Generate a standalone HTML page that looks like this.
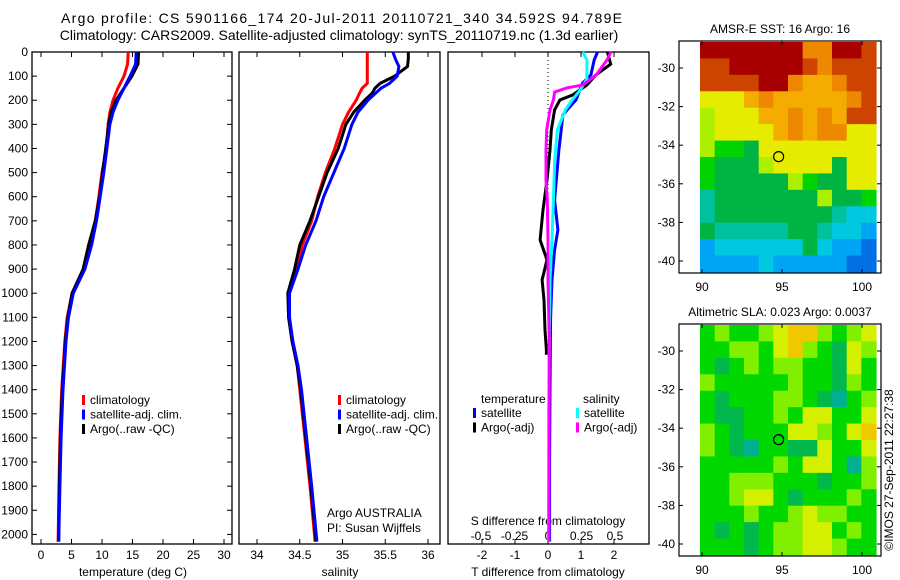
<!DOCTYPE html>
<html><head><meta charset="utf-8"><style>
body{margin:0;background:#fff;}
svg{display:block;font-family:"Liberation Sans",Arial,sans-serif;}
</style></head><body>
<svg id="fig" width="900" height="580" viewBox="0 0 900 580" xmlns="http://www.w3.org/2000/svg">
<text x="61" y="23" font-size="14" textLength="561" lengthAdjust="spacing">Argo profile: CS 5901166_174 20-Jul-2011 20110721_340 34.592S 94.789E</text>
<text x="339" y="40" font-size="14" text-anchor="middle">Climatology: CARS2009. Satellite-adjusted climatology: synTS_20110719.nc (1.3d earlier)</text>
<g id="g1"></g>
<g id="g2"></g>
<g id="g3"></g>
<g id="m1"></g>
<g id="m2"></g>
<text transform="translate(893,470) rotate(-90)" font-size="12" text-anchor="middle">©IMOS 27-Sep-2011 22:27:38</text>
</svg>
<script>
// ---- data ----
const tDepth=[0,50,100,150,200,250,300,400,500,600,700,800,900,1000,1100,1200,1400,1600,1800,2030];
const tClim=[14.3,14.2,13.6,12.6,11.8,11.3,11.0,10.7,10.0,9.5,8.9,8.0,7.0,5.1,4.3,3.9,3.4,3.1,2.95,2.8];
const tSat=[15.6,15.5,14.6,13.6,12.6,11.8,11.3,10.8,10.3,9.7,9.1,8.3,7.2,5.3,4.5,4.1,3.6,3.3,3.1,2.9];
const tArgo=[16.0,15.9,14.9,13.6,12.3,11.5,11.1,10.6,10.1,9.6,8.9,7.8,6.9,5.1,4.4,4.0,3.5,3.2,3.0,2.9];
const sDepth=[0,30,60,100,130,150,170,200,250,300,400,500,600,700,800,900,1000,1100,1200,1300,1400,1600,1800,2030];
const sClim=[35.29,35.29,35.29,35.29,35.29,35.23,35.2,35.16,35.07,35.0,34.91,34.8,34.71,34.64,34.53,34.46,34.37,34.37,34.41,34.47,34.5,34.56,34.62,34.68];
const sSat=[35.59,35.62,35.66,35.64,35.55,35.45,35.39,35.3,35.18,35.11,35.02,34.9,34.78,34.69,34.57,34.48,34.38,34.38,34.42,34.48,34.52,34.58,34.64,34.7];
const sArgo=[35.77,35.77,35.76,35.61,35.44,35.38,35.35,35.26,35.13,35.04,34.95,34.82,34.72,34.62,34.5,34.44,34.36,34.37,34.41,34.47,34.51,34.57,34.63,34.69];
const dtSatDepth=[0,33,95,129,199,240,261,406,614,738,821,945,1100,1400,1700,2030];
const dtSat=[1.5,1.4,1.3,1.05,0.85,0.58,0.45,0.33,0.2,0.3,0.2,0.12,0.08,0.06,0.05,0.05];
const dtArgoDepth=[0,50,95,137,178,199,240,323,406,531,655,779,862,945,1028,1153,1235,1255];
const dtArgo=[1.8,1.9,1.45,1.18,0.75,0.36,0.2,0.1,0.06,-0.03,-0.15,-0.24,-0.03,-0.18,-0.12,-0.09,-0.05,-0.05];
const dsSatDepth=[0,33,112,158,199,240,323,448,614,779,945,1194,1500,2030];
const dsSat=[0.26,0.29,0.29,0.24,0.18,0.13,0.07,0.05,0.04,0.03,0.015,0.01,0.005,0.005];
const dsArgoDepth=[0,33,95,137,149,166,199,240,323,406,531,614,779,945,1194,1500,2030];
const dsArgo=[0.47,0.44,0.36,0.26,0.14,0.05,0.04,0.015,-0.01,-0.015,-0.015,-0.005,0,0,0.01,0.008,0.006];
const depthTicks=[0,100,200,300,400,500,600,700,800,900,1000,1100,1200,1300,1400,1500,1600,1700,1800,1900,2000];
const tTicks=[0,5,10,15,20,25,30];
const sTicks=["34","34.5","35","35.5","36"];
const dTTicks=[-2,-1,0,1,2];
const dSTicks=["-0.5","-0.25","0","0.25","0.5"];
const latTicks=[-30,-32,-34,-36,-38,-40];
const lonTicks=[90,95,100];
const sstGrid=["RRRRRRRooRRr","rrRRRRRrorrr","rrrrRRoOOorr","yyyOoOOOOOor","lyyyOOoOoOrr","lyyyyOoOooyy","lggGyyyyyyyy","gGGGlyyyyGyy","gGGGGGlgGGyy","tGGGGGGGlGGg","tGGGGGGGGtcc","GtttttGGtccb","bccccccGcbbB","bbbbcbbbbbBB"];
const slaGrid=["glgglyYYlgly","ggllgyYlgGyl","gGglgllggGyg","lggggglggGlg","gGgggllgGtgl","gGGgglgyyggy","lgGgggyylgyY","lgGtggGGyggy","ggggglgyygtl","gglllgggGggl","gglyygGggglg","ggglgglyllgg","gGgGgllyyglg","gggGgllyylgg"];
// ---- helpers ----
const NS="http://www.w3.org/2000/svg";
function mk(parent,tag,attrs,text){const e=document.createElementNS(NS,tag);for(const k in attrs)e.setAttribute(k,attrs[k]);if(text!==undefined)e.textContent=text;parent.appendChild(e);return e;}
const Y0=52,BOT=544;
const yD=d=>Y0+d*0.2412;
function frame(g,x0,x1){const r=mk(g,'rect',{x:x0,y:Y0,width:x1-x0,height:BOT-Y0,fill:'none',stroke:'#000','stroke-width':1.3});

}
function line(g,xs,ds,fx,color,name){const pts=xs.map((v,i)=>fx(v).toFixed(1)+','+yD(ds[i]).toFixed(1)).join(' ');
const p=mk(g,'polyline',{points:pts,fill:'none',stroke:color,'stroke-width':3,'stroke-linejoin':'miter'});

}
function xTicks(g,vals,fx,labels,ylab,inner){vals.forEach((v,i)=>{const x=fx(v);
mk(g,'line',{x1:x,x2:x,y1:Y0,y2:Y0+5,stroke:'#000'});
if(!inner)mk(g,'line',{x1:x,x2:x,y1:BOT,y2:BOT-5,stroke:'#000'});
const t=mk(g,'text',{x:x,y:ylab,'font-size':12,'text-anchor':'middle'},labels[i]);

});}
function legend(g,x,y,items){items.forEach((it,i)=>{const yy=y+i*14.5;
mk(g,'rect',{x:x,y:yy-9,width:3,height:10,fill:it[0]});
const t=mk(g,'text',{x:x+8,y:yy,'font-size':12},it[1]);

});}
// ---- panel 1 ----
const g1=document.getElementById('g1');
const fxT=v=>41+v*6.1;
frame(g1,32,232);
depthTicks.forEach(d=>{const y=yD(d);mk(g1,'line',{x1:32,x2:37,y1:y,y2:y,stroke:'#000'});mk(g1,'line',{x1:227,x2:232,y1:y,y2:y,stroke:'#000'});
const t=mk(g1,'text',{x:28,y:y+4,'font-size':12,'text-anchor':'end'},String(d));

});
xTicks(g1,tTicks,fxT,tTicks.map(String),559,false);
mk(g1,'text',{x:133,y:576,'font-size':12,'text-anchor':'middle'},'temperature (deg C)');
line(g1,tClim,tDepth,fxT,'#ff0000','temp-climatology-line');
line(g1,tArgo,tDepth,fxT,'#000000','temp-argo-line');
line(g1,tSat,tDepth,fxT,'#0000ff','temp-satellite-line');
legend(g1,82,404,[['#f00','climatology'],['#00f','satellite-adj. clim.'],['#000','Argo(..raw -QC)']]);
// ---- panel 2 ----
const g2=document.getElementById('g2');
const fxS=v=>257+(v-34)*85.5;
frame(g2,239,440);
xTicks(g2,sTicks.map(Number),fxS,sTicks,559,false);
mk(g2,'text',{x:340,y:576,'font-size':12,'text-anchor':'middle'},'salinity');
line(g2,sClim,sDepth,fxS,'#ff0000','sal-climatology-line');
line(g2,sArgo,sDepth,fxS,'#000000','sal-argo-line');
line(g2,sSat,sDepth,fxS,'#0000ff','sal-satellite-line');
legend(g2,338,404,[['#f00','climatology'],['#00f','satellite-adj. clim.'],['#000','Argo(..raw -QC)']]);
mk(g2,'text',{x:327,y:517,'font-size':12},'Argo AUSTRALIA');
mk(g2,'text',{x:327,y:532,'font-size':12},'PI: Susan Wijffels');
// ---- panel 3 ----
const g3=document.getElementById('g3');
const fxDT=v=>548+v*33, fxDS=v=>548+v*134;
frame(g3,448,649);
mk(g3,'line',{x1:548,x2:548,y1:Y0,y2:BOT,stroke:'#000','stroke-dasharray':'1,3'});
xTicks(g3,dTTicks,fxDT,dTTicks.map(String),559,false);
dSTicks.forEach(s=>{const t=mk(g3,'text',{x:fxDS(Number(s)),y:540,'font-size':12,'text-anchor':'middle'},s);

});
mk(g3,'text',{x:548,y:525,'font-size':12,'text-anchor':'middle'},'S difference from climatology');
mk(g3,'text',{x:548,y:576,'font-size':12,'text-anchor':'middle'},'T difference from climatology');
line(g3,dtArgo,dtArgoDepth,fxDT,'#000000','tdiff-argo-line');
line(g3,dtSat,dtSatDepth,fxDT,'#0000ff','tdiff-satellite-line');
line(g3,dsSat,dsSatDepth,fxDS,'#00ffff','sdiff-satellite-line');
line(g3,dsArgo,dsArgoDepth,fxDS,'#ff00ff','sdiff-argo-line');
mk(g3,'text',{x:481,y:403,'font-size':12},'temperature');
mk(g3,'text',{x:583,y:403,'font-size':12},'salinity');
legend(g3,473,417,[['#00f','satellite'],['#000','Argo(-adj)']]);
legend(g3,576,417,[['#0ff','satellite'],['#f0f','Argo(-adj)']]);
// ---- maps ----
const sstCol={R:'#a80000',r:'#cc4400',o:'#ee8800',O:'#f4ac00',y:'#e6ec00',l:'#aaf000',g:'#00d400',G:'#00b444',t:'#00c0a0',c:'#00c8e0',b:'#00a4f4',B:'#0070e4'};
const slaCol={g:'#00d800',G:'#00b84c',l:'#80f000',y:'#d4f000',Y:'#f0c800',t:'#00b090'};
function map(id,top,grid,cols,title){const g=document.getElementById(id);
const fx=l=>702+(l-90)*16, fy=la=>top+27+(-30-la)*19.3;
const x0=700,x1=876,y0=top+1,y1=top+231,cw=(x1-x0)/12,ch=(y1-y0)/14;
grid.forEach((row,r)=>{[...row].forEach((c,k)=>{const cell=mk(g,'rect',{x:(x0+k*cw).toFixed(2),y:(y0+r*ch).toFixed(2),width:(cw+0.6).toFixed(2),height:(ch+0.6).toFixed(2),fill:cols[c]});

});});
mk(g,'rect',{x:679,y:top,width:202,height:232,fill:'none',stroke:'#000','stroke-width':1.2});
latTicks.forEach(la=>{const y=fy(la);mk(g,'line',{x1:679,x2:683,y1:y,y2:y,stroke:'#000'});mk(g,'line',{x1:877,x2:881,y1:y,y2:y,stroke:'#000'});
const t=mk(g,'text',{x:675,y:y+4,'font-size':12,'text-anchor':'end'},String(la));

});
lonTicks.forEach(l=>{const x=fx(l);mk(g,'line',{x1:x,x2:x,y1:top,y2:top+4,stroke:'#000'});mk(g,'line',{x1:x,x2:x,y1:top+232,y2:top+228,stroke:'#000'});
const t=mk(g,'text',{x:x,y:top+250,'font-size':12,'text-anchor':'middle'},String(l));

});
const c=mk(g,'circle',{cx:fx(94.789),cy:fy(-34.592),r:5,fill:'none',stroke:'#000','stroke-width':1.2});


mk(g,'text',{x:780,y:top-8,'font-size':12,'text-anchor':'middle'},title);}
map('m1',41,sstGrid,sstCol,'AMSR-E SST: 16 Argo: 16');
map('m2',324,slaGrid,slaCol,'Altimetric SLA: 0.023 Argo: 0.0037');
</script>
</body></html>
